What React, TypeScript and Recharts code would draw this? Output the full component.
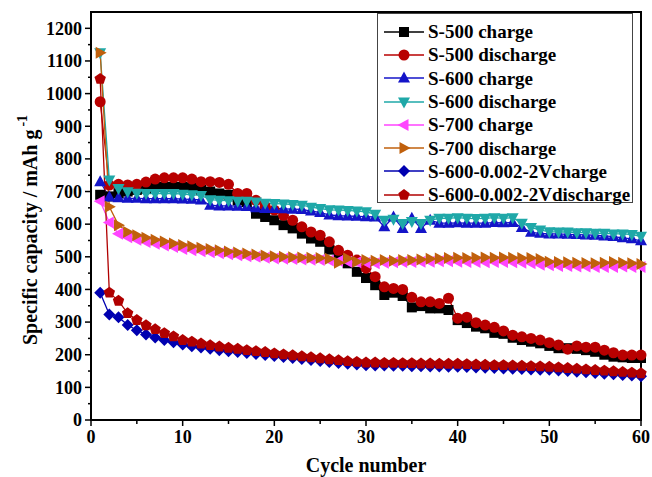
import { LineChart, Line, XAxis, YAxis, Legend, ReferenceArea, Label } from "recharts"

const cycles = Array.from({ length: 60 }, (_, i) => i + 1)

const s500Charge = [
  690, 685, 695, 700, 705, 710, 714, 714, 714, 714, 712, 706, 700, 694, 690, 673, 668, 632, 622, 612,
  597, 587, 571, 556, 546, 522, 500, 480, 454, 435, 413, 383, 390, 380, 345, 349, 342, 342, 337, 306,
  297, 286, 281, 267, 264, 252, 245, 240, 235, 227, 220, 220, 218, 214, 209, 200, 194, 192, 190, 190,
]
const s500Discharge = [
  975, 720, 722, 720, 722, 729, 738, 742, 742, 742, 738, 730, 730, 728, 722, 694, 694, 673, 655, 643,
  627, 612, 592, 576, 566, 546, 520, 505, 490, 465, 439, 408, 403, 400, 376, 362, 362, 357, 373, 312,
  315, 298, 291, 284, 273, 260, 255, 250, 245, 237, 230, 217, 227, 223, 223, 214, 206, 199, 199, 199,
]
const s600Charge = [
  730, 683, 681, 679, 679, 678, 678, 678, 678, 677, 676, 674, 658, 656, 656, 655, 654, 650, 648, 648,
  647, 646, 645, 640, 636, 628, 626, 625, 624, 623, 622, 592, 622, 587, 618, 587, 612, 603, 603, 604,
  603, 603, 603, 605, 604, 605, 590, 575, 572, 570, 570, 569, 568, 567, 566, 564, 562, 558, 555, 549,
]
const s600Discharge = [
  1125, 735, 709, 699, 695, 694, 694, 694, 694, 692, 690, 688, 675, 673, 672, 670, 670, 668, 664, 663,
  662, 660, 658, 652, 648, 644, 643, 642, 640, 638, 630, 612, 615, 602, 608, 602, 612, 618, 618, 620,
  618, 617, 618, 620, 618, 620, 603, 590, 582, 577, 576, 576, 574, 574, 572, 572, 570, 570, 568, 563,
]
const s700Charge = [
  670, 605, 571, 560, 552, 545, 540, 535, 530, 524, 520, 517, 514, 511, 508, 505, 502, 500, 497, 495,
  494, 493, 492, 491, 490, 489, 487, 485, 483, 482, 480, 482, 483, 484, 484, 485, 485, 486, 486, 485,
  484, 484, 483, 484, 484, 483, 482, 480, 476, 474, 472, 472, 470, 470, 469, 469, 469, 470, 469, 469,
]
const s700Discharge = [
  1125, 653, 597, 576, 566, 558, 552, 547, 541, 536, 532, 528, 524, 520, 516, 513, 510, 507, 504, 502,
  500, 499, 498, 497, 496, 494, 482, 495, 485, 490, 488, 490, 488, 490, 490, 492, 494, 495, 496, 497,
  496, 497, 498, 497, 498, 497, 496, 496, 493, 485, 484, 483, 482, 481, 480, 482, 484, 482, 480, 478,
]
const s600vCharge = [
  390, 323, 315, 291, 275, 262, 253, 245, 238, 231, 226, 222, 218, 214, 211, 208, 205, 202, 199, 196,
  193, 190, 187, 184, 181, 178, 175, 172, 170, 168, 167, 167, 166, 166, 165, 165, 164, 164, 163, 163,
  162, 161, 160, 159, 158, 157, 156, 155, 154, 154, 152, 150, 148, 146, 144, 142, 140, 138, 136, 134,
]
const s600vDischarge = [
  1045, 390, 365, 327, 306, 290, 278, 266, 256, 245, 240, 234, 229, 225, 221, 218, 214, 211, 208, 204,
  201, 198, 195, 192, 189, 186, 183, 180, 178, 176, 176, 175, 175, 174, 174, 173, 173, 172, 172, 172,
  171, 170, 169, 168, 168, 167, 166, 165, 164, 163, 161, 159, 157, 155, 153, 151, 149, 147, 145, 143,
]

const xTicks = [0, 5, 10, 15, 20, 25, 30, 35, 40, 45, 50, 55, 60]
const yTicks = Array.from({ length: 25 }, (_, i) => i * 50)

type Shape = "square" | "circle" | "up" | "down" | "left" | "right" | "diamond" | "pentagon"

const series: { key: string; name: string; color: string; shape: Shape; values: number[] }[] = [
  { key: "s500c", name: "S-500 charge", color: "#000000", shape: "square", values: s500Charge },
  { key: "s500d", name: "S-500 discharge", color: "#b80000", shape: "circle", values: s500Discharge },
  { key: "s600c", name: "S-600 charge", color: "#1414c8", shape: "up", values: s600Charge },
  { key: "s600d", name: "S-600 discharge", color: "#1fa8a8", shape: "down", values: s600Discharge },
  { key: "s700c", name: "S-700 charge", color: "#ff44ff", shape: "left", values: s700Charge },
  { key: "s700d", name: "S-700 discharge", color: "#c0600c", shape: "right", values: s700Discharge },
  { key: "s600vc", name: "S-600-0.002-2Vcharge", color: "#0000b0", shape: "diamond", values: s600vCharge },
  { key: "s600vd", name: "S-600-0.002-2Vdischarge", color: "#b00000", shape: "pentagon", values: s600vDischarge },
]

const data = cycles.map((cycle, i) => {
  const row: Record<string, number> = { cycle }
  series.forEach((s) => (row[s.key] = s.values[i]))
  return row
})

const font = "'Liberation Serif', 'Times New Roman', serif"

function Marker({ shape, cx, cy, color }: { shape: Shape; cx: number; cy: number; color: string }) {
  const pts = (arr: number[][]) => arr.map(([a, b]) => `${cx + a},${cy + b}`).join(" ")
  switch (shape) {
    case "square":
      return <rect x={cx - 5} y={cy - 5} width={10} height={10} fill={color} />
    case "circle":
      return <circle cx={cx} cy={cy} r={5.5} fill={color} />
    case "up":
      return <polygon points={pts([[0, -6.5], [-6, 4.5], [6, 4.5]])} fill={color} />
    case "down":
      return <polygon points={pts([[0, 6.5], [-6, -4.5], [6, -4.5]])} fill={color} />
    case "left":
      return <polygon points={pts([[-6.5, 0], [4.5, -6], [4.5, 6]])} fill={color} />
    case "right":
      return <polygon points={pts([[6.5, 0], [-4.5, -6], [-4.5, 6]])} fill={color} />
    case "diamond":
      return <polygon points={pts([[0, -6], [6, 0], [0, 6], [-6, 0]])} fill={color} />
    case "pentagon":
    default: {
      const p = [0, 1, 2, 3, 4].map((k) => {
        const a = -Math.PI / 2 + (k * 2 * Math.PI) / 5
        return [6 * Math.cos(a), 6 * Math.sin(a)]
      })
      return <polygon points={pts(p)} fill={color} />
    }
  }
}

const XTick = (props: any) => {
  const { x, y, payload } = props
  const major = payload.value % 10 === 0
  return (
    <g>
      <line x1={x} x2={x} y1={y} y2={y + (major ? 6 : 4)} stroke="#000" strokeWidth={1.5} />
      {major && (
        <text x={x} y={y + 23} textAnchor="middle" fontFamily={font} fontWeight="bold" fontSize={18} fill="#000">
          {payload.value}
        </text>
      )}
    </g>
  )
}

const YTick = (props: any) => {
  const { x, y, payload } = props
  const major = payload.value % 100 === 0
  return (
    <g>
      <line x1={x} x2={x - (major ? 6 : 3)} y1={y} y2={y} stroke="#000" strokeWidth={1.5} />
      {major && (
        <text x={x - 9} y={y} dy="0.35em" textAnchor="end" fontFamily={font} fontWeight="bold" fontSize={18} fill="#000">
          {payload.value}
        </text>
      )}
    </g>
  )
}

const YTitle = () => (
  <text
    x={30}
    y={230}
    transform="rotate(-90, 30, 230)"
    textAnchor="middle"
    dominantBaseline="central"
    fontFamily={font}
    fontWeight="bold"
    fontSize={20}
    fill="#000"
  >
    Specific capacity / mAh g
    <tspan dx={3} dy={-8} fontSize={14}>-1</tspan>
  </text>
)

const XTitle = (props: any) => {
  const vb = props.viewBox
  return (
    <text
      x={vb.x + vb.width / 2}
      y={472}
      textAnchor="middle"
      fontFamily={font}
      fontWeight="bold"
      fontSize={20}
      fill="#000"
    >
      Cycle number
    </text>
  )
}

const LegendBox = () => (
  <div
    style={{
      border: "1px solid #444",
      background: "#fff",
      width: 256,
      height: 190,
      boxSizing: "border-box",
      paddingTop: 6,
    }}
  >
    {series.map((s) => (
      <div key={s.key} style={{ display: "flex", alignItems: "center", height: 23.3 }}>
        <svg width={50} height={18} style={{ flex: "none" }}>
          <line x1={6} x2={46} y1={9} y2={9} stroke={s.color} strokeWidth={1.5} />
          <Marker shape={s.shape} cx={26} cy={9} color={s.color} />
        </svg>
        <span style={{ fontFamily: font, fontWeight: "bold", fontSize: 19, color: "#000", whiteSpace: "nowrap", lineHeight: 1 }}>
          {s.name}
        </span>
      </div>
    ))}
  </div>
)

export default function App() {
  return (
    <div style={{ position: "absolute", left: 0, top: 0, width: 652, height: 477, background: "#fff" }}>
      <LineChart width={652} height={477} data={data} margin={{ top: 12, right: 11, bottom: 0, left: 0 }}>
        <XAxis
          dataKey="cycle"
          type="number"
          domain={[0, 60]}
          ticks={xTicks}
          interval={0}
          height={57}
          axisLine={false}
          tickLine={false}
          tickSize={0}
          tickMargin={0}
          tick={<XTick />}
        >
          <Label content={<XTitle />} />
        </XAxis>
        <YAxis
          type="number"
          domain={[0, 1250]}
          ticks={yTicks}
          interval={0}
          width={91}
          axisLine={false}
          tickLine={false}
          tickSize={0}
          tickMargin={0}
          tick={<YTick />}
        >
          <Label content={<YTitle />} />
        </YAxis>
        <ReferenceArea x1={0} x2={60} y1={0} y2={1250} fill="none" stroke="#000" strokeWidth={2} fillOpacity={0} />
        {series.map((s) => (
          <Line
            key={s.key}
            dataKey={s.key}
            name={s.name}
            type="linear"
            stroke={s.color}
            strokeWidth={1.3}
            isAnimationActive={false}
            activeDot={false}
            dot={(p: any) => <Marker key={`${s.key}-${p.index}`} shape={s.shape} cx={p.cx} cy={p.cy} color={s.color} />}
          />
        ))}
        <Legend
          layout="vertical"
          align="center"
          verticalAlign="middle"
          content={<LegendBox />}
          wrapperStyle={{ left: 377, top: 13, width: 256, height: 190 }}
        />
      </LineChart>
    </div>
  )
}
